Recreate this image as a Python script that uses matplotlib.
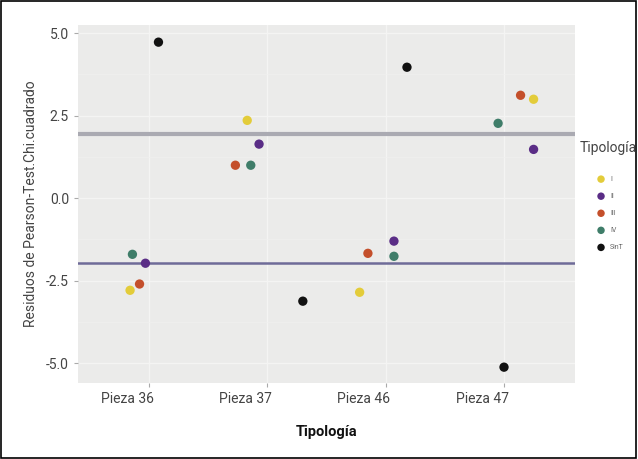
import matplotlib
matplotlib.use('Agg')
import matplotlib.pyplot as plt
import matplotlib.transforms as mtransforms
from matplotlib.patches import Rectangle

plt.rcParams['font.family'] = ['Roboto', 'DejaVu Sans']

piezas = ['Pieza 36', 'Pieza 37', 'Pieza 46', 'Pieza 47']
tipos = ['I', 'II', 'III', 'IV', 'SinT']
colores = {'I': '#e3cc3a', 'II': '#5a2d86', 'III': '#c44f2b', 'IV': '#3f7d69', 'SinT': '#111111'}

# residuos por pieza (orden: I, II, III, IV, SinT)
res_36 = [-2.79, -1.97, -2.60, -1.70, 4.73]
res_37 = [2.36, 1.64, 1.00, 1.00, -3.12]
res_46 = [-2.85, -1.30, -1.67, -1.76, 3.97]
res_47 = [3.00, 1.48, 3.12, 2.27, -5.12]
# desplazamiento horizontal (jitter) de cada punto
jit_36 = [-0.16, -0.03, -0.08, -0.14, 0.08]
jit_37 = [-0.17, -0.07, -0.27, -0.14, 0.30]
jit_46 = [-0.22, 0.07, -0.15, 0.07, 0.18]
jit_47 = [0.25, 0.25, 0.14, -0.05, 0.00]

residuos = [res_36, res_37, res_46, res_47]
jitters = [jit_36, jit_37, jit_46, jit_47]
limite = 1.96

fig = plt.figure(figsize=(6.38, 4.59), dpi=100)
ax = fig.add_axes([78/638, 1-383/459, (575-78)/638, (383-25)/459])
ax.set_facecolor('#ebebea')

ax.set_xlim(0.4, 4.6)
ax.set_ylim(-5.6, 5.25)
ax.set_yticks([-5, -2.5, 0, 2.5, 5])
ax.set_yticks([-3.75, -1.25, 1.25, 3.75], minor=True)
ax.set_xticks([1, 2, 3, 4])
ax.set_xticklabels(piezas)
ax.grid(True, which='major', color='#f4f4f3', linewidth=1.0)
ax.grid(True, which='minor', axis='y', color='#f0f0ef', linewidth=0.5)
ax.set_axisbelow(True)
for s in ax.spines.values():
    s.set_visible(False)
ax.tick_params(axis='both', colors='#aaaaaa', length=3, labelcolor='#444444', labelsize=10)
ax.tick_params(which='minor', length=0)
offset = mtransforms.ScaledTranslation(-22/100, 0, fig.dpi_scale_trans)
for lab in ax.get_xticklabels():
    lab.set_transform(lab.get_transform() + offset)
ax.set_yticklabels(['-5.0', '-2.5', '0.0', '2.5', '5.0'])

ax.axhline(limite, color='#aaaab2', linewidth=3, zorder=2)
ax.axhline(-limite, color='#6e6b98', linewidth=1.8, zorder=2)

for k, t in enumerate(tipos):
    xs = [i + 1 + jitters[i][k] for i in range(len(piezas))]
    ys = [residuos[i][k] for i in range(len(piezas))]
    ax.scatter(xs, ys, s=45, color=colores[t], zorder=3, label=t, edgecolors='none')

ax.set_xlabel('Tipología', fontweight='bold', fontsize=10.5, labelpad=14, color='#111111')
ax.set_ylabel('Residuos de Pearson-Test.Chi.cuadrado', fontsize=10, color='#444444', labelpad=6)

leg = ax.legend(loc='upper left', bbox_to_anchor=(1.03, 0.59),
                frameon=False, fontsize=5, handletextpad=0.3,
                markerscale=0.8, labelspacing=1.45, borderaxespad=0.2)
for txt in leg.get_texts():
    txt.set_color('#666666')
fig.text(580/638, 1-148/459, 'Tipología', fontsize=10, color='#444444', va='center', ha='left')

fig.patches.append(Rectangle((0.002, 0.003), 0.995, 0.994, transform=fig.transFigure,
                             fill=False, edgecolor='black', linewidth=1.2))

fig.savefig('out.png', dpi=100)
